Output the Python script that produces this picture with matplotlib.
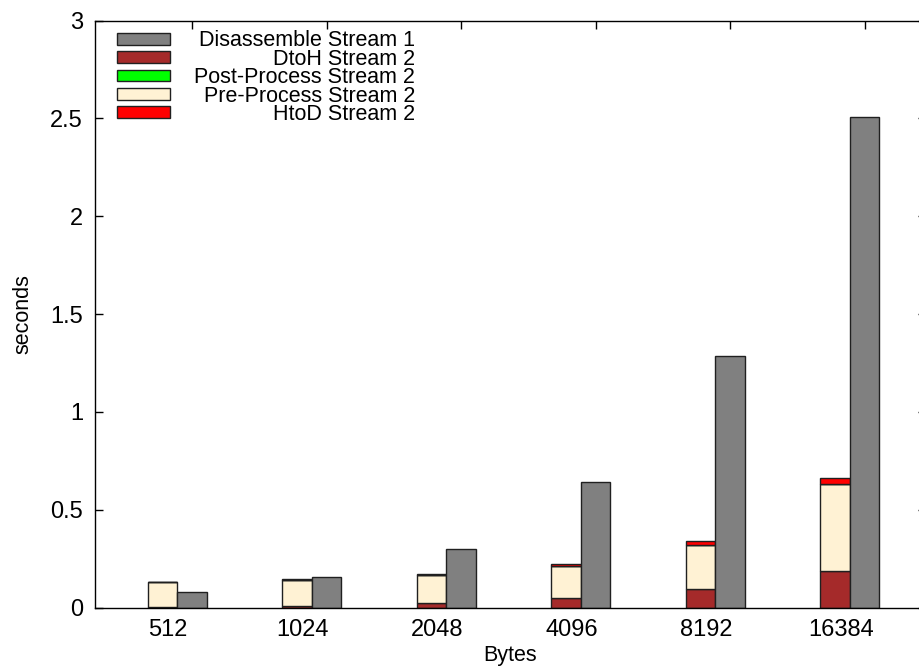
import numpy as np
import matplotlib
matplotlib.use('Agg')
import matplotlib.pyplot as plt
from matplotlib.ticker import FormatStrFormatter

# data (seconds)
sizes = ['512', '1024', '2048', '4096', '8192', '16384']
disassemble_s1 = [0.078, 0.154, 0.299, 0.643, 1.287, 2.505]
dtoh_s2 = [0.005, 0.010, 0.021, 0.049, 0.095, 0.188]
pre_s2 = [0.124, 0.132, 0.144, 0.164, 0.222, 0.441]
post_s2 = [0.001, 0.001, 0.001, 0.001, 0.001, 0.001]
htod_s2 = [0.002, 0.003, 0.004, 0.008, 0.020, 0.030]

plt.rcParams['font.family'] = ['Liberation Sans', 'DejaVu Sans']
plt.rcParams['font.size'] = 15.5

fig = plt.figure(figsize=(9.19, 6.66), dpi=100)
ax = fig.add_axes([0.1034, 0.0878, 0.9042, 0.8814])

x = np.arange(len(sizes))
width = 0.22
left_stack = x - 0.153
left_gray = x + 0.067
edge = dict(edgecolor='#202020', linewidth=1.0, align='edge')

# stacked stream 2 bars (bottom to top)
h_dtoh = ax.bar(left_stack, dtoh_s2, width, color='#a52a2a', **edge)
b = np.array(dtoh_s2)
h_pre = ax.bar(left_stack, pre_s2, width, bottom=b, color='#fff2d4', **edge)
b = b + np.array(pre_s2)
h_post = ax.bar(left_stack, post_s2, width, bottom=b, color='#00ff00', **edge)
b = b + np.array(post_s2)
h_htod = ax.bar(left_stack, htod_s2, width, bottom=b, color='#ff0000', **edge)

# stream 1 disassemble
h_dis = ax.bar(left_gray, disassemble_s1, width, color='#808080', **edge)

ax.set_xlim(-0.544, 5.634)
ax.set_ylim(0, 3)
ax.set_yticks(np.arange(0, 3.01, 0.5))
ax.yaxis.set_major_formatter(FormatStrFormatter('%g'))
ax.set_xticks(x)
ax.set_xticklabels(sizes)
ax.set_xticks(left_gray + width / 2, minor=True)

ax.tick_params(axis='x', which='major', length=0, pad=8.0, labelsize=17)
ax.tick_params(axis='x', which='minor', direction='in', length=6, width=1.0,
               top=True, bottom=False)
ax.tick_params(axis='y', direction='in', length=6, width=1.0, right=True, pad=8.6,
               labelsize=17)
for s in ax.spines.values():
    s.set_linewidth(1.0)

ax.set_xlabel('Bytes', labelpad=3)
ax.set_ylabel('seconds', labelpad=12)

handles = [h_dis, h_dtoh, h_post, h_pre, h_htod]
labels = ['Disassemble Stream 1', 'DtoH Stream 2', 'Post-Process Stream 2',
          'Pre-Process Stream 2', 'HtoD Stream 2']
leg = ax.legend(handles, labels, loc='upper left', bbox_to_anchor=(0.0265, 0.9833),
                frameon=False, borderpad=0, borderaxespad=0, handlelength=2.47,
                handleheight=0.47, handletextpad=1.11, labelspacing=-0.12)

# right-align legend text like gnuplot
fig.canvas.draw()
widths = [t.get_window_extent().width for t in leg.get_texts()]
shift = max(widths)
for t, w in zip(leg.get_texts(), widths):
    t.set_position((shift - w, 0))

fig.savefig('out.png', dpi=100)
